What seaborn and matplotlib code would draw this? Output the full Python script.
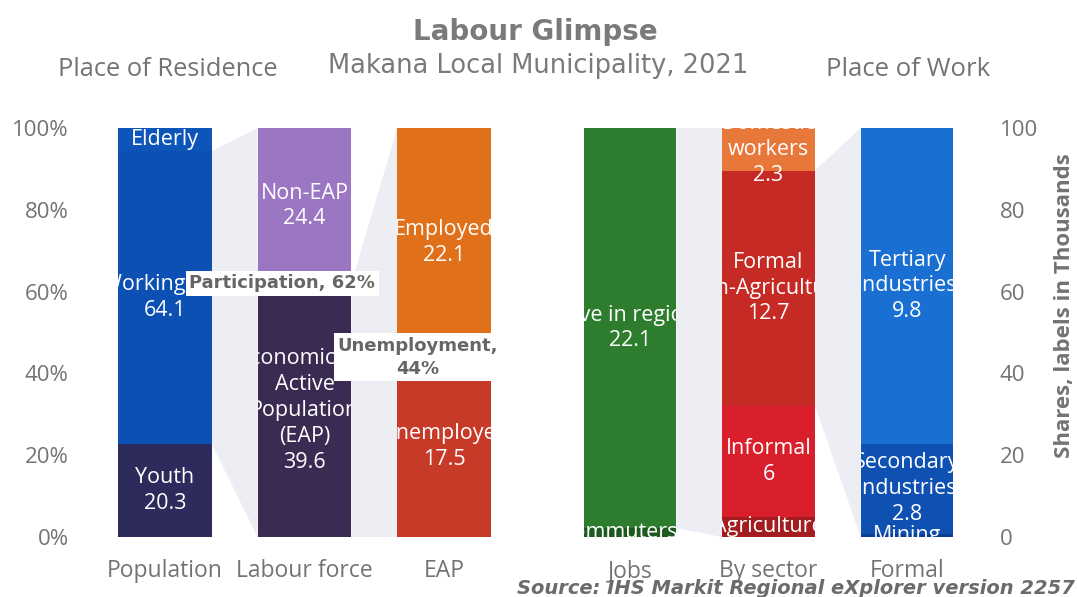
import matplotlib
matplotlib.use("Agg")
import matplotlib.pyplot as plt
from matplotlib.patches import Rectangle
import seaborn as sns

# ---------------- data ----------------
left_bars = ["Population", "Labour force", "EAP"]
right_bars = ["Jobs", "By sector", "Formal"]

pop_segments = ["Youth", "Working age", "Elderly"]
pop_values = [20.3, 64.1, 5.1]
pop_colors = ["#2d2a5c", "#0b50b2", "#0d55b8"]

lf_segments = ["Economically\nActive\nPopulation\n(EAP)", "Non-EAP"]
lf_values = [39.6, 24.4]
lf_colors = ["#3b2a52", "#9b76c2"]

eap_segments = ["Unemployed", "Employed"]
eap_values = [17.5, 22.1]
eap_colors = ["#c73a28", "#e07019"]

jobs_segments = ["Commuters in", "Live in region"]
jobs_values = [0.5, 22.1]
jobs_colors = ["#1c5a20", "#2e7d2f"]

sector_segments = ["Agriculture", "Informal", "Formal\n(non-Agriculture)", "Domestic\nworkers"]
sector_values = [1.1, 6.0, 12.7, 2.3]
sector_colors = ["#a31c1f", "#d81f2b", "#c62a24", "#e8773a"]

formal_segments = ["Mining", "Secondary\nIndustries", "Tertiary\nIndustries"]
formal_values = [0.1, 2.8, 9.8]
formal_colors = ["#0a3f93", "#0f51b3", "#1a70d2"]

left_ticks = [0, 20, 40, 60, 80, 100]
right_ticks = [0, 20, 40, 60, 80, 100]

participation_label = "Participation, 62%"
participation_share = 62
unemployment_label = "Unemployment,\n44%"
unemployment_share = 44

title = "Labour Glimpse"
subtitle = "Makana Local Municipality, 2021"
left_heading = "Place of Residence"
right_heading = "Place of Work"
right_ylabel = "Shares, labels in Thousands"
source = "Source: IHS Markit Regional eXplorer version 2257"

# ---------------- style ----------------
sns.set_theme(style="white")
plt.rcParams["font.family"] = ["Open Sans", "DejaVu Sans"]

GREY = "#737373"
W = 0.67
CONNECT = "#eceef4"
LABEL_FS = 15.5

fig = plt.figure(figsize=(10.77, 5.97), dpi=100)
axL = fig.add_axes([0.0884, 0.1005, 0.3886, 0.685])
axR = fig.add_axes([0.5207, 0.1005, 0.3858, 0.685])


def draw_stack(ax, order, cat, names, values, colors):
    total = sum(values)
    bottom = 0.0
    spans = []
    xi = order.index(cat)
    clip = Rectangle((xi - W / 2, 0), W, 100, transform=ax.transData)
    for name, v, c in zip(names, values, colors):
        s = v / total * 100
        sns.barplot(x=[cat], y=[s], order=order, color=c, width=W,
                    bottom=bottom, errorbar=None, saturation=1,
                    linewidth=0, ax=ax, zorder=2)
        # tiny segments only have room for their name
        label = name if s < 8 else f"{name}\n{v:g}"
        t = ax.text(xi, bottom + s / 2, label, ha="center", va="center",
                    color="white", fontsize=LABEL_FS, linespacing=1.3, zorder=3,
                    clip_on=True)
        t.set_clip_path(clip)
        spans.append((bottom, bottom + s))
        bottom += s
    return spans


def connector(ax, i, span_from, span_to):
    x1 = i + W / 2
    x2 = i + 1 - W / 2
    ax.fill([x1, x2, x2, x1], [span_from[0], span_to[0], span_to[1], span_from[1]],
            color=CONNECT, lw=0, zorder=1)


pop_sp = draw_stack(axL, left_bars, "Population", pop_segments, pop_values, pop_colors)
lf_sp = draw_stack(axL, left_bars, "Labour force", lf_segments, lf_values, lf_colors)
eap_sp = draw_stack(axL, left_bars, "EAP", eap_segments, eap_values, eap_colors)
connector(axL, 0, pop_sp[1], (0, 100))
connector(axL, 1, lf_sp[0], (0, 100))

jobs_sp = draw_stack(axR, right_bars, "Jobs", jobs_segments, jobs_values, jobs_colors)
sec_sp = draw_stack(axR, right_bars, "By sector", sector_segments, sector_values, sector_colors)
for_sp = draw_stack(axR, right_bars, "Formal", formal_segments, formal_values, formal_colors)
connector(axR, 0, jobs_sp[1], (0, 100))
connector(axR, 1, sec_sp[2], (0, 100))

# annotation boxes
axL.text(0.84, participation_share, participation_label, ha="center", va="center",
         fontsize=13, fontweight="bold", color="#666666", family="DejaVu Sans",
         zorder=6, bbox=dict(facecolor="white", edgecolor="none", boxstyle="square,pad=0.2"))
axL.text(1.81, unemployment_share, unemployment_label, ha="center", va="center",
         fontsize=13, fontweight="bold", color="#666666", family="DejaVu Sans",
         linespacing=1.35, zorder=6,
         bbox=dict(facecolor="white", edgecolor="none", boxstyle="square,pad=0.2"))

for ax in (axL, axR):
    ax.set_ylim(0, 100)
    ax.set_xlim(-0.5, 2.5)
    ax.set_xlabel("")
    ax.set_ylabel("")
    for sp in ax.spines.values():
        sp.set_visible(False)
    ax.tick_params(axis="x", length=0, pad=16, labelsize=16.5, labelcolor=GREY)
    ax.tick_params(axis="y", length=0, labelsize=16, labelcolor=GREY)

axL.set_yticks(left_ticks)
axL.set_yticklabels([f"{t}%" for t in left_ticks])
axL.tick_params(axis="y", pad=19)

axR.yaxis.tick_right()
axR.set_yticks(right_ticks)
axR.set_yticklabels([f"{t}" for t in right_ticks])
axR.tick_params(axis="y", pad=17, labelsize=16)
axR.yaxis.set_label_position("right")
axR.set_ylabel(right_ylabel, fontsize=16, fontweight="bold", color=GREY)
axR.yaxis.set_label_coords(1.187, 0.567)

# titles
fig.text(535 / 1077, 1 - 32 / 597, title, ha="center", va="center", fontsize=20,
         fontweight="bold", color="#7a7a7a", family="DejaVu Sans")
fig.text(538 / 1077, 1 - 66 / 597, subtitle, ha="center", va="center", fontsize=18.5,
         color="#7a7a7a", family="DejaVu Sans")
fig.text(168 / 1077, 1 - 70 / 597, left_heading, ha="center", va="center", fontsize=18.3,
         color=GREY)
fig.text(908 / 1077, 1 - 70 / 597, right_heading, ha="center", va="center", fontsize=18.5,
         color=GREY)
fig.text(1075 / 1077, 1 - 589 / 597, source, ha="right", va="center", fontsize=14,
         fontweight="bold", style="italic", color="#6b6b6b", family="DejaVu Sans")

fig.savefig("out.png", dpi=100, facecolor="white")
